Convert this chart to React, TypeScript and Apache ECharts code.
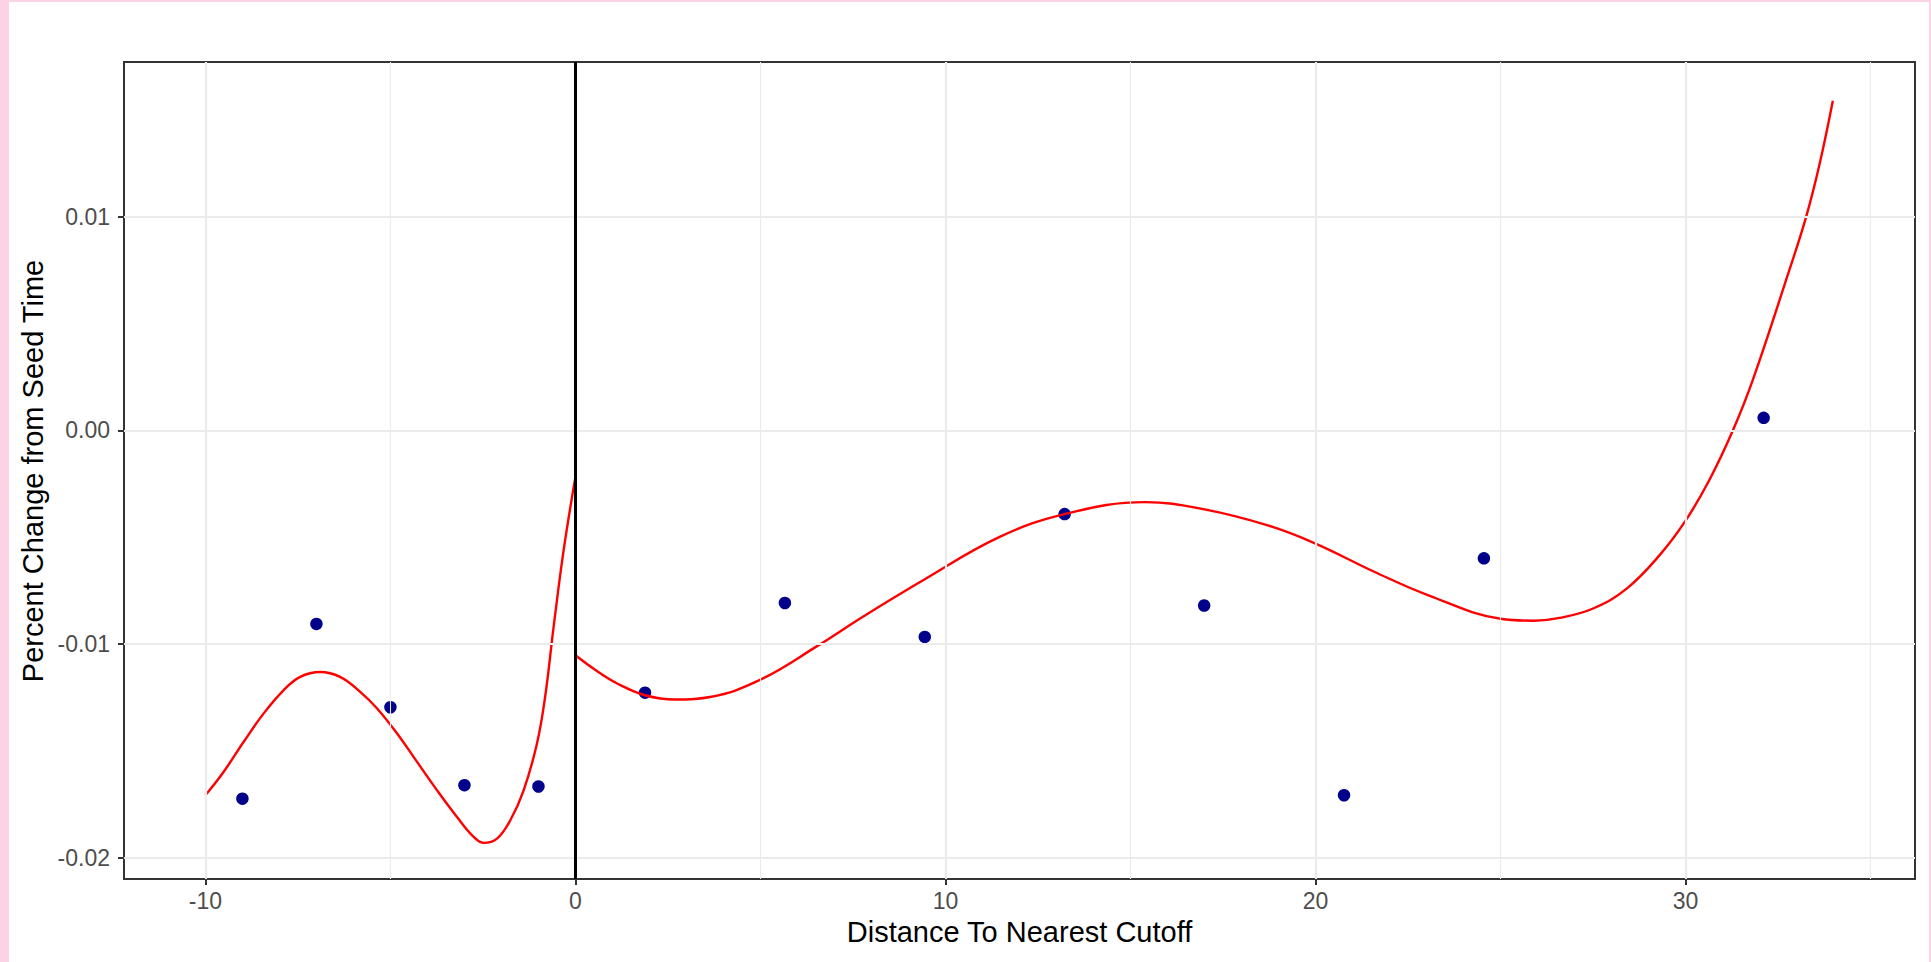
import React, { useEffect, useRef } from "react";
import * as echarts from "echarts";

// Observed points
const pointX = [-9, -7, -5, -3, -1, 1.88, 5.66, 9.44, 13.22, 16.99, 20.77, 24.55, 32.11];
const pointY = [-0.01724, -0.00906, -0.01296, -0.01661, -0.01667, -0.01228, -0.00808, -0.00967, -0.00392, -0.0082, -0.01708, -0.00599, 0.000585];

// Fitted curve left of the cutoff
const leftFitX = [-10, -9.51, -8.97, -8.43, -7.89, -7.44, -6.9, -6.36, -5.81, -5.36, -4.82, -4.28, -3.74, -3.2, -2.75, -2.48, -2.12, -1.76, -1.4, -1.04, -0.82, -0.59, -0.32, 0];
const leftFitY = [-0.01708, -0.01599, -0.01459, -0.01326, -0.01217, -0.01154, -0.01131, -0.01154, -0.01225, -0.01302, -0.01419, -0.01552, -0.01685, -0.0181, -0.01903, -0.01931, -0.01911, -0.01825, -0.01685, -0.01466, -0.01248, -0.0092, -0.00562, -0.00218];

// Fitted curve right of the cutoff
const rightFitX = [0, 0.55, 1.13, 1.88, 2.7, 3.64, 5.0, 6.53, 7.79, 9.44, 11.45, 13.22, 15.4, 17.0, 18.71, 20.0, 21.6, 23.05, 25.0, 25.9, 26.6, 27.5, 28.4, 29.3, 30.0, 30.65, 31.28, 31.82, 32.81, 33.26, 33.62, 33.98];
const rightFitY = [-0.01053, -0.01123, -0.01185, -0.0124, -0.0126, -0.01248, -0.01167, -0.0101, -0.0087, -0.00697, -0.005, -0.00392, -0.00336, -0.0037, -0.00445, -0.0053, -0.00663, -0.00772, -0.00882, -0.00891, -0.00878, -0.00834, -0.00742, -0.00584, -0.00423, -0.0023, 0.0, 0.00237, 0.00753, 0.01, 0.01245, 0.01543];

const xMajor = [-10, 0, 10, 20, 30];
const xMinor = [-5, 5, 15, 25, 35];
const yMajor = [-0.02, -0.01, 0, 0.01];
const yMinor = [-0.015, -0.005, 0.005, 0.015];

const cutoff = 0;
const xTitle = "Distance To Nearest Cutoff";
const yTitle = "Percent Change from Seed Time";

const FONT = "'Liberation Sans', Arial, Helvetica, sans-serif";

export default function App() {
  const ref = useRef<HTMLDivElement>(null);

  useEffect(() => {
    if (!ref.current) return;
    const chart = echarts.init(ref.current, null, { renderer: "svg" });

    const zip = (xs: number[], ys: number[]) => xs.map((x, i) => [x, ys[i]]);

    const gridLines = [
      ...xMinor.map((v) => ({ xAxis: v, lineStyle: { color: "#EBEBEB", width: 1.1, type: "solid" } })),
      ...yMinor.map((v) => ({ yAxis: v, lineStyle: { color: "#EBEBEB", width: 1.1, type: "solid" } })),
      ...xMajor.map((v) => ({ xAxis: v, lineStyle: { color: "#EBEBEB", width: 2.2, type: "solid" } })),
      ...yMajor.map((v) => ({ yAxis: v, lineStyle: { color: "#EBEBEB", width: 2.2, type: "solid" } })),
    ];

    const option: any = {
      animation: false,
      backgroundColor: "transparent",
      grid: {
        left: 124,
        top: 62,
        width: 1791,
        height: 817,
        show: true,
        borderColor: "#333333",
        borderWidth: 2,
        backgroundColor: "transparent",
      },
      xAxis: {
        type: "value",
        min: -12.2,
        max: 36.2,
        splitLine: { show: false },
        axisLine: { show: false, onZero: false },
        axisTick: {
          show: true,
          length: 6,
          customValues: xMajor,
          lineStyle: { color: "#333333", width: 2 },
        },
        axisLabel: {
          customValues: xMajor,
          color: "#4D4D4D",
          fontSize: 23,
          fontFamily: FONT,
          margin: 10,
          formatter: (v: number) => String(v),
        },
      },
      yAxis: {
        type: "value",
        min: -0.021,
        max: 0.01724,
        splitLine: { show: false },
        axisLine: { show: false, onZero: false },
        axisTick: {
          show: true,
          length: 6,
          customValues: yMajor,
          lineStyle: { color: "#333333", width: 2 },
        },
        axisLabel: {
          customValues: yMajor,
          color: "#4D4D4D",
          fontSize: 23,
          fontFamily: FONT,
          margin: 14,
          formatter: (v: number) => v.toFixed(2),
        },
      },
      graphic: [
        {
          type: "text",
          x: 1019.5,
          y: 932,
          style: {
            text: xTitle,
            fontSize: 29,
            fontFamily: FONT,
            fill: "#000000",
            align: "center",
            verticalAlign: "middle",
          },
        },
        {
          type: "text",
          x: 33,
          y: 471,
          rotation: Math.PI / 2,
          style: {
            text: yTitle,
            fontSize: 29,
            fontFamily: FONT,
            fill: "#000000",
            align: "center",
            verticalAlign: "middle",
          },
        },
      ],
      series: [
        {
          name: "grid",
          type: "line",
          z: 1,
          silent: true,
          data: [[-100, -100]],
          showSymbol: false,
          lineStyle: { opacity: 0 },
          markLine: {
            silent: true,
            symbol: ["none", "none"],
            label: { show: false },
            animation: false,
            data: gridLines,
          },
        },
        {
          name: "points",
          type: "scatter",
          z: 3,
          symbol: "circle",
          symbolSize: 12.5,
          itemStyle: { color: "#00008B", opacity: 1 },
          data: zip(pointX, pointY),
        },
        {
          name: "fitLeft",
          type: "line",
          z: 4,
          smooth: 0.4,
          showSymbol: false,
          lineStyle: { color: "#FF0000", width: 2.4 },
          data: zip(leftFitX, leftFitY),
        },
        {
          name: "fitRight",
          type: "line",
          z: 4,
          smooth: 0.4,
          showSymbol: false,
          lineStyle: { color: "#FF0000", width: 2.4 },
          data: zip(rightFitX, rightFitY),
        },
        {
          name: "cutoff",
          type: "line",
          z: 5,
          silent: true,
          data: [[-100, -100]],
          showSymbol: false,
          lineStyle: { opacity: 0 },
          markLine: {
            silent: true,
            symbol: ["none", "none"],
            label: { show: false },
            animation: false,
            data: [{ xAxis: cutoff, lineStyle: { color: "#000000", width: 3, type: "solid" } }],
          },
        },
      ],
    };

    chart.setOption(option);
    return () => chart.dispose();
  }, []);

  return (
    <div style={{ position: "fixed", left: 0, top: 0, width: 1931, height: 962, background: "#FBD3E5" }}>
      <div style={{ position: "absolute", left: 9, top: 2, width: 1920, height: 960, background: "#FFFFFF" }} />
      <div ref={ref} style={{ position: "absolute", left: 0, top: 0, width: 1931, height: 962 }} />
    </div>
  );
}
